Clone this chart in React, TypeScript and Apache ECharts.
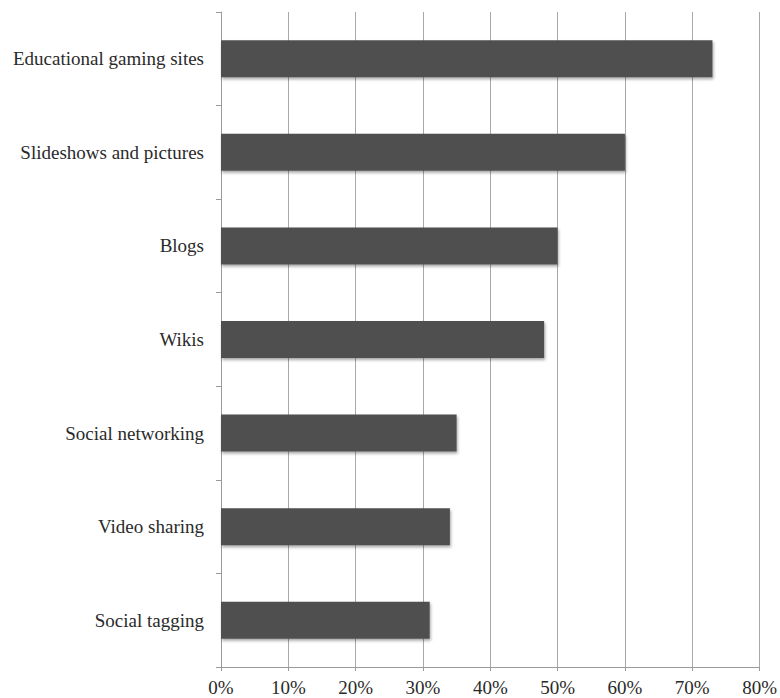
import React, { useEffect, useRef } from "react";
import * as echarts from "echarts";

const categories = [
  "Educational gaming sites",
  "Slideshows and pictures",
  "Blogs",
  "Wikis",
  "Social networking",
  "Video sharing",
  "Social tagging",
];
const values = [73, 60, 50, 48, 35, 34, 31];
const xMin = 0;
const xMax = 80;
const xInterval = 10;

export default function App() {
  const ref = useRef<HTMLDivElement>(null);
  useEffect(() => {
    if (!ref.current) return;
    const chart = echarts.init(ref.current, undefined, { renderer: "svg" });
    const font = "'Liberation Serif', 'Times New Roman', serif";
    chart.setOption({
      animation: false,
      backgroundColor: "#ffffff",
      grid: { left: 221, right: 20, top: 12, bottom: 31, containLabel: false },
      xAxis: {
        type: "value",
        min: xMin,
        max: xMax,
        interval: xInterval,
        axisLine: { show: true, lineStyle: { color: "#9a9a9a", width: 1 } },
        axisTick: { show: true, length: 4, lineStyle: { color: "#9a9a9a" } },
        splitLine: { show: true, lineStyle: { color: "#a8a8a8", width: 1 } },
        axisLabel: {
          formatter: "{value}%",
          color: "#2a2a2a",
          fontFamily: font,
          fontSize: 19,
          margin: 11,
        },
      },
      yAxis: {
        type: "category",
        data: categories,
        inverse: true,
        axisLine: { show: true, lineStyle: { color: "#9a9a9a", width: 1 } },
        axisTick: { show: true, length: 5, lineStyle: { color: "#9a9a9a" } },
        axisLabel: {
          color: "#2a2a2a",
          fontFamily: font,
          fontSize: 19,
          margin: 17,
        },
        splitLine: { show: false },
      },
      series: [
        {
          type: "bar",
          data: values,
          barWidth: 37,
          itemStyle: {
            color: "#505050",
            shadowColor: "rgba(0,0,0,0.35)",
            shadowBlur: 3,
            shadowOffsetX: 1,
            shadowOffsetY: 2,
          },
        },
      ],
    });
    return () => chart.dispose();
  }, []);
  return (
    <div
      ref={ref}
      style={{ position: "fixed", left: 0, top: 0, width: 780, height: 698 }}
    />
  );
}
